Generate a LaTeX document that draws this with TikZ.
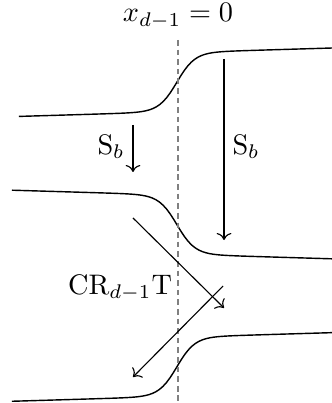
\documentclass[tikz,border=0pt]{standalone}
\usepackage{amsmath,amssymb}
\usetikzlibrary{arrows.meta,calc}

\begin{document}
\begin{tikzpicture}[
  declare function={kink(\x)=0.367*tanh((\x-2.2)/0.224)+0.03*(\x-2.2);},
  curve/.style={samples=90, line width=0.5pt},
  axisline/.style={gray, dash pattern=on 2pt off 1.4pt},
  arr/.style={->},
  lbl/.style={inner sep=1pt}
]
\useasboundingbox (0,0) rectangle (4.129,5.012);

% layer boundaries
\draw[curve, domain=0.236:4.129] plot (\x,{3.99+kink(\x)});
\draw[curve, domain=0.149:4.129] plot (\x,{2.218-kink(\x)});
\draw[curve, domain=0.149:4.129] plot (\x,{0.45+kink(\x)});

% x_{d-1}=0 axis
\node (axis) at (2.214,4.813) {$x_{d-1}=0$};
\coordinate (axtop) at (2.214,4.515);
\coordinate (axbot) at (2.214,0);
\draw[axisline] (axtop)--(axbot);

% shifts
\coordinate (sbs) at (1.654,3.458);
\coordinate (sbe) at (1.654,2.873);
\coordinate (sbls) at (2.786,4.279);
\coordinate (sble) at (2.786,2.027);
\coordinate (crs) at (1.654,2.301);
\coordinate (cre) at (2.786,1.182);
\coordinate (crbs) at (2.774,1.455);
\coordinate (crbe) at (1.654,0.323);

\draw[arr] (sbs)--(sbe);
\draw[arr] (sbls)--(sble);
\draw[arr] (crs)--(cre);
\draw[arr] (crbs)--(crbe);

\node[lbl] (sb) at (1.381,3.184) {$\mathrm{S}_b$};
\node[lbl] (sbl) at (3.060,3.184) {$\mathrm{S}_b$};
\node[lbl] (cr) at (1.493,1.430) {$\mathrm{CR}_{d-1}\mathrm{T}$};
\end{tikzpicture}
\end{document}
